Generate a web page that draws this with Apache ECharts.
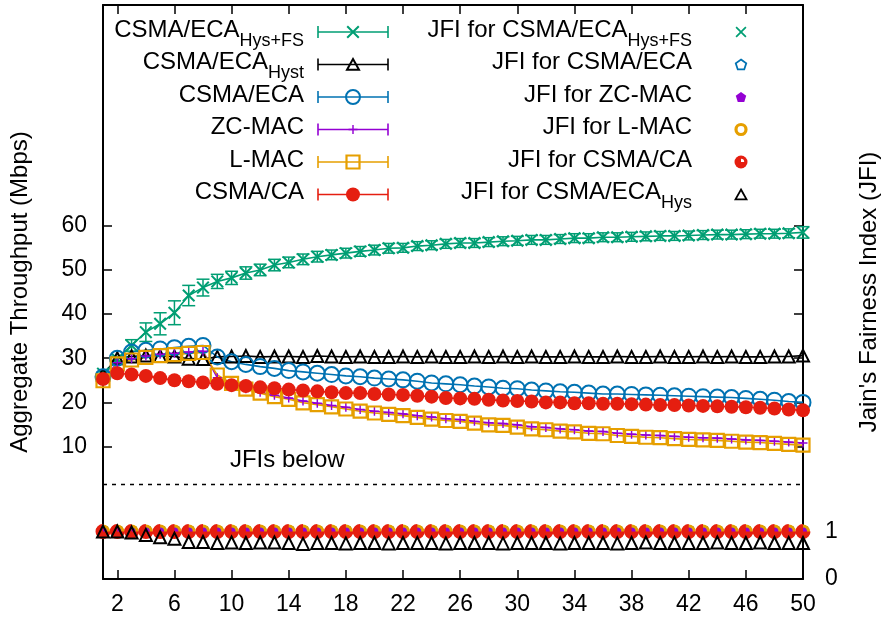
<!DOCTYPE html>
<html>
<head>
<meta charset="utf-8">
<script src="https://cdn.jsdelivr.net/npm/echarts@6/dist/echarts.min.js"></script>
<style>
html, body { margin: 0; padding: 0; background: #fff; }
#chart { width: 890px; height: 618px; }
</style>
</head>
<body>
<div id="chart"></div>
<script>
// number of stations
const stations = [1, 2, 3, 4, 5, 6, 7, 8, 9, 10, 11, 12, 13, 14, 15, 16, 17, 18, 19, 20,
  21, 22, 23, 24, 25, 26, 27, 28, 29, 30, 31, 32, 33, 34, 35, 36, 37, 38, 39, 40,
  41, 42, 43, 44, 45, 46, 47, 48, 49, 50]

// aggregate throughput (Mbps)
const hysFs = [26.5, 29.8, 32.9, 35.9, 37.8, 40.3, 44.2, 46.0, 47.4, 48.2, 49.3, 50.0, 51.1, 51.7, 52.4, 53.0, 53.4, 53.8, 54.2, 54.5,
  54.9, 55.0, 55.4, 55.6, 55.9, 56.1, 56.1, 56.3, 56.5, 56.6, 56.8, 56.8, 57.0, 57.2, 57.2, 57.4, 57.4, 57.5, 57.6, 57.7,
  57.7, 57.8, 57.9, 58.0, 58.0, 58.1, 58.2, 58.2, 58.3, 58.5]
const hysFsErr = [0.4, 0.6, 1.3, 2.1, 2.5, 2.7, 2.3, 1.9, 1.6, 1.5, 1.4, 1.3, 1.3, 1.2, 1.2, 1.2, 1.1, 1.1, 1.1, 1.1,
  1.1, 1.0, 1.0, 1.0, 1.0, 1.0, 1.0, 1.0, 1.0, 1.0, 1.0, 1.0, 1.0, 1.0, 1.0, 1.0, 1.0, 1.0, 1.0, 1.0,
  1.0, 1.0, 1.0, 1.0, 1.0, 1.0, 1.0, 1.0, 1.0, 1.3]
const hyst = [26.3, 30.0, 30.4, 30.6, 30.5, 30.4, 29.9, 29.8, 30.3, 30.4, 30.5, 30.3, 30.4, 30.4, 30.3, 30.5, 30.4, 30.3, 30.4, 30.3,
  30.3, 30.4, 30.3, 30.4, 30.3, 30.3, 30.4, 30.3, 30.4, 30.3, 30.4, 30.3, 30.3, 30.4, 30.3, 30.3, 30.4, 30.3, 30.3, 30.4,
  30.3, 30.3, 30.4, 30.3, 30.4, 30.3, 30.3, 30.4, 30.4, 30.6]
const eca = [25.8, 30.0, 31.4, 31.8, 32.1, 32.4, 32.7, 32.9, 30.3, 29.2, 28.6, 28.1, 27.7, 27.2, 26.9, 26.6, 26.3, 26.0, 25.8, 25.5,
  25.3, 25.1, 24.8, 24.4, 24.2, 24.0, 23.7, 23.5, 23.2, 23.1, 22.8, 22.6, 22.4, 22.3, 22.1, 21.9, 21.9, 21.8, 21.7, 21.6,
  21.5, 21.4, 21.3, 21.2, 21.1, 20.9, 20.7, 20.5, 20.2, 20.0]
const zcmac = [25.2, 29.0, 29.9, 30.5, 30.9, 31.1, 31.4, 31.6, 25.6, 24.2, 23.1, 22.3, 21.6, 21.0, 20.3, 19.8, 19.3, 18.9, 18.4, 18.0,
  17.7, 17.4, 17.0, 16.7, 16.3, 16.1, 15.7, 15.4, 15.2, 14.9, 14.5, 14.3, 14.0, 13.8, 13.5, 13.4, 13.0, 12.8, 12.6, 12.5,
  12.3, 12.1, 12.0, 11.9, 11.7, 11.5, 11.4, 11.2, 11.0, 10.8]
const lmac = [24.9, 28.7, 29.6, 30.2, 30.6, 30.8, 31.1, 31.3, 26.2, 24.3, 23.0, 22.1, 21.3, 20.7, 19.9, 19.5, 19.0, 18.5, 18.0, 17.6,
  17.3, 17.0, 16.6, 16.2, 15.9, 15.7, 15.3, 14.9, 14.8, 14.4, 14.0, 13.8, 13.5, 13.3, 13.0, 12.9, 12.5, 12.3, 12.1, 12.0,
  11.8, 11.6, 11.5, 11.4, 11.2, 11.0, 10.9, 10.7, 10.5, 10.3]
const csmaca = [25.3, 26.6, 26.3, 26.0, 25.5, 25.0, 24.8, 24.5, 24.2, 23.9, 23.7, 23.4, 23.2, 22.9, 22.7, 22.5, 22.3, 22.1, 22.1, 21.9,
  21.8, 21.7, 21.5, 21.3, 21.0, 20.9, 20.8, 20.6, 20.4, 20.3, 20.2, 20.0, 20.0, 19.8, 19.8, 19.7, 19.7, 19.6, 19.5, 19.4,
  19.4, 19.3, 19.2, 19.1, 19.0, 18.9, 18.8, 18.6, 18.4, 18.2]

// Jain's fairness index
const jfiHysFs = [1, 1, 1, 1, 1, 1, 1, 1, 1, 1, 1, 1, 1, 1, 1, 1, 1, 1, 1, 1, 1, 1, 1, 1, 1,
  1, 1, 1, 1, 1, 1, 1, 1, 1, 1, 1, 1, 1, 1, 1, 1, 1, 1, 1, 1, 1, 1, 1, 1, 1]
const jfiEca = [1, 1, 1, 1, 1, 1, 1, 1, 1, 1, 1, 1, 1, 1, 1, 1, 1, 1, 1, 1, 1, 1, 1, 1, 1,
  1, 1, 1, 1, 1, 1, 1, 1, 1, 1, 1, 1, 1, 1, 1, 1, 1, 1, 1, 1, 1, 1, 1, 1, 1]
const jfiZc = [1, 1, 1, 1, 1, 1, 1, 1, 1, 1, 1, 1, 1, 1, 1, 1, 1, 1, 1, 1, 1, 1, 1, 1, 1,
  1, 1, 1, 1, 1, 1, 1, 1, 1, 1, 1, 1, 1, 1, 1, 1, 1, 1, 1, 1, 1, 1, 1, 1, 1]
const jfiLmac = [1, 1, 1, 1, 1, 1, 1, 1, 1, 1, 1, 1, 1, 1, 1, 1, 1, 1, 1, 1, 1, 1, 1, 1, 1,
  1, 1, 1, 1, 1, 1, 1, 1, 1, 1, 1, 1, 1, 1, 1, 1, 1, 1, 1, 1, 1, 1, 1, 1, 1]
const jfiCa = [1, 1, 1, 1, 1, 1, 1, 1, 1, 1, 1, 1, 1, 1, 1, 1, 1, 1, 1, 1, 1, 1, 1, 1, 1,
  1, 1, 1, 1, 1, 1, 1, 1, 1, 1, 1, 1, 1, 1, 1, 1, 1, 1, 1, 1, 1, 1, 1, 1, 1]
const jfiHys = [1.00, 1.00, 0.98, 0.93, 0.88, 0.85, 0.78, 0.78, 0.76, 0.77, 0.76, 0.77, 0.77, 0.76, 0.74, 0.76, 0.76, 0.75, 0.76, 0.76,
  0.75, 0.76, 0.76, 0.76, 0.75, 0.76, 0.76, 0.76, 0.75, 0.76, 0.76, 0.76, 0.75, 0.76, 0.76, 0.76, 0.75, 0.76, 0.77, 0.76,
  0.76, 0.76, 0.76, 0.77, 0.76, 0.76, 0.77, 0.76, 0.76, 0.76]

// ticks
const xTicks = [2, 6, 10, 14, 18, 22, 26, 30, 34, 38, 42, 46, 50]
const yTicks = [10, 20, 30, 40, 50, 60]
const jfiTicks = [0, 1]
const jfiSplit = 2

// legend names: [text, subscript]
const thrNames = [['CSMA/ECA', 'Hys+FS'], ['CSMA/ECA', 'Hyst'], ['CSMA/ECA', ''], ['ZC-MAC', ''], ['L-MAC', ''], ['CSMA/CA', '']]
const jfiNames = [['JFI for CSMA/ECA', 'Hys+FS'], ['JFI for CSMA/ECA', ''], ['JFI for ZC-MAC', ''], ['JFI for L-MAC', ''], ['JFI for CSMA/CA', ''], ['JFI for CSMA/ECA', 'Hys']]

const FONT = "'Liberation Sans', Arial, Helvetica, sans-serif"
const GREEN = '#009e73'
const BLACK = '#000000'
const BLUE = '#0072b2'
const PURPLE = '#9400d3'
const ORANGE = '#e69f00'
const RED = '#e51e10'
const NONE = 'rgba(0,0,0,0)'

// marker outlines in a 10x10 box
const CROSS = [[0, 1.1], [1.1, 0], [5, 3.9], [8.9, 0], [10, 1.1], [6.1, 5], [10, 8.9], [8.9, 10], [5, 6.1], [1.1, 10], [0, 8.9], [3.9, 5]]
const PLUS = [[4.2, 0], [5.8, 0], [5.8, 4.2], [10, 4.2], [10, 5.8], [5.8, 5.8], [5.8, 10], [4.2, 10], [4.2, 5.8], [0, 5.8], [0, 4.2], [4.2, 4.2]]
const PENTA = [[5, 0], [9.76, 3.45], [7.94, 9.05], [2.06, 9.05], [0.24, 3.45]]
const TRI = [[5, 0], [10, 9], [0, 9]]

function toPath (pts) {
  return 'path://M' + pts.map(p => p[0] + ',' + p[1]).join('L') + 'Z'
}
function pairs (vals) {
  return stations.map((x, i) => [x, vals[i]])
}

function thrSeries (name, vals, color, symbol, size, fill, border) {
  return {
    name: name,
    type: 'line',
    xAxisIndex: 0,
    yAxisIndex: 0,
    data: pairs(vals),
    symbol: symbol,
    symbolSize: size,
    showAllSymbol: true,
    clip: false,
    lineStyle: { color: color, width: 1.6 },
    itemStyle: { color: fill, borderColor: color, borderWidth: border },
    emphasis: { disabled: true }
  }
}
function jfiSeries (name, vals, color, symbol, size, fill, border) {
  return {
    name: name,
    type: 'scatter',
    xAxisIndex: 0,
    yAxisIndex: 1,
    data: pairs(vals),
    symbol: symbol,
    symbolSize: size,
    clip: false,
    itemStyle: { color: fill, borderColor: color, borderWidth: border, opacity: 1 },
    emphasis: { disabled: true }
  }
}

const errorBars = {
  type: 'custom',
  xAxisIndex: 0,
  yAxisIndex: 0,
  clip: false,
  data: stations.map((x, i) => [x, hysFs[i] - hysFsErr[i], hysFs[i] + hysFsErr[i]]),
  encode: { x: 0, y: [1, 2] },
  renderItem: function (params, api) {
    const lo = api.coord([api.value(0), api.value(1)])
    const hi = api.coord([api.value(0), api.value(2)])
    const w = 6.5
    const st = { stroke: GREEN, lineWidth: 1.5 }
    return {
      type: 'group',
      children: [
        { type: 'line', shape: { x1: lo[0], y1: lo[1], x2: hi[0], y2: hi[1] }, style: st },
        { type: 'line', shape: { x1: lo[0] - w, y1: lo[1], x2: lo[0] + w, y2: lo[1] }, style: st },
        { type: 'line', shape: { x1: hi[0] - w, y1: hi[1], x2: hi[0] + w, y2: hi[1] }, style: st }
      ]
    }
  }
}

const redNotch = 'path://M5,0A5,5,0,1,0,10,5L5,5Z'

const series = [
  errorBars,
  thrSeries('hysfs', hysFs, GREEN, toPath(CROSS), 13, GREEN, 0),
  thrSeries('hyst', hyst, BLACK, 'triangle', 12, NONE, 2),
  thrSeries('eca', eca, BLUE, 'circle', 15, NONE, 2),
  thrSeries('zc', zcmac, PURPLE, toPath(PLUS), 9, PURPLE, 0),
  thrSeries('lmac', lmac, ORANGE, 'rect', 13, NONE, 2.2),
  thrSeries('ca', csmaca, RED, 'circle', 14, RED, 0),
  jfiSeries('jhysfs', jfiHysFs, GREEN, toPath(CROSS), 11, GREEN, 0),
  jfiSeries('jeca', jfiEca, BLUE, toPath(PENTA), 10, NONE, 1.5),
  jfiSeries('jzc', jfiZc, PURPLE, toPath(PENTA), 10, PURPLE, 0),
  jfiSeries('jlmac', jfiLmac, ORANGE, 'circle', 11, NONE, 3),
  jfiSeries('jca', jfiCa, RED, redNotch, 15, RED, 0),
  jfiSeries('jhys', jfiHys, BLACK, 'triangle', 12, NONE, 2)
]
series[7].markLine = {
  silent: true,
  symbol: 'none',
  label: { show: false },
  lineStyle: { color: '#000', width: 1.3, type: [4, 5] },
  data: [{ yAxis: jfiSplit }]
}

const axisLine = { show: true, onZero: false, lineStyle: { color: '#000', width: 2 } }
const tickStyle = { color: '#000', width: 1.5 }
const labelStyle = { color: '#000', fontSize: 23, fontFamily: FONT }

const option = {
  animation: false,
  backgroundColor: '#fff',
  grid: { left: 102, right: 87, top: 5, bottom: 39 },
  xAxis: [
    {
      type: 'value', min: 1, max: 50, position: 'bottom',
      axisLine: axisLine,
      axisTick: { inside: true, length: 9, customValues: xTicks, lineStyle: tickStyle },
      axisLabel: Object.assign({ customValues: xTicks, margin: 14 }, labelStyle),
      splitLine: { show: false }
    },
    {
      type: 'value', min: 1, max: 50, position: 'top',
      axisLine: axisLine,
      axisTick: { inside: true, length: 9, customValues: xTicks, lineStyle: tickStyle },
      axisLabel: { show: false },
      splitLine: { show: false }
    }
  ],
  yAxis: [
    {
      type: 'value', min: -20, max: 110, position: 'left',
      axisLine: axisLine,
      axisTick: { inside: true, length: 9, customValues: yTicks, lineStyle: tickStyle },
      axisLabel: Object.assign({ customValues: yTicks, margin: 16 }, labelStyle),
      splitLine: { show: false },
      name: 'Aggregate Throughput (Mbps)',
      nameLocation: 'middle',
      nameRotate: 90,
      nameGap: 71,
      nameTextStyle: { color: '#000', fontSize: 24, fontFamily: FONT }
    },
    {
      type: 'value', min: 0, max: 12.1, position: 'right',
      axisLine: axisLine,
      axisTick: { show: false },
      axisLabel: Object.assign({ customValues: jfiTicks, margin: 22 }, labelStyle),
      splitLine: { show: false },
      name: "Jain's Fairness Index (JFI)",
      nameLocation: 'middle',
      nameRotate: 90,
      nameGap: 54,
      nameTextStyle: { color: '#000', fontSize: 24, fontFamily: FONT }
    },
    {
      type: 'value', min: -20, max: 110, position: 'right',
      axisLine: { show: false },
      axisTick: { inside: true, length: 9, customValues: yTicks, lineStyle: tickStyle },
      axisLabel: { show: false },
      splitLine: { show: false }
    }
  ],
  series: series
}

const chart = echarts.init(document.getElementById('chart'))
chart.setOption(option)

// legend, drawn gnuplot-style
const ctx = document.createElement('canvas').getContext('2d')
function textWidth (str, size) {
  ctx.font = size + "px 'Liberation Sans', Arial, sans-serif"
  return ctx.measureText(str).width
}
function label (pair, right, y) {
  const els = []
  let edge = right
  if (pair[1]) {
    els.push({ type: 'text', x: right, y: y + 9, style: { text: pair[1], fontSize: 18, fontFamily: FONT, fill: '#000', align: 'right', verticalAlign: 'middle' } })
    edge = right - textWidth(pair[1], 18)
  }
  els.push({ type: 'text', x: edge, y: y - 2, style: { text: pair[0], fontSize: 24, fontFamily: FONT, fill: '#000', align: 'right', verticalAlign: 'middle' } })
  return els
}
function poly (pts, cx, cy, size, fill, stroke, lw) {
  return {
    type: 'polygon',
    shape: { points: pts.map(p => [cx + (p[0] - 5) * size / 10, cy + (p[1] - 5) * size / 10]) },
    style: { fill: fill, stroke: stroke, lineWidth: lw }
  }
}

const rowsY = [32, 64.5, 97, 129.5, 162, 194.5]
const thrColors = [GREEN, BLACK, BLUE, PURPLE, ORANGE, RED]
const thrMarks = [
  (x, y) => [poly(CROSS, x, y, 13, GREEN, null, 0)],
  (x, y) => [poly(TRI, x, y + 0.5, 12, NONE, BLACK, 2)],
  (x, y) => [{ type: 'circle', shape: { cx: x, cy: y, r: 7 }, style: { fill: NONE, stroke: BLUE, lineWidth: 2 } }],
  (x, y) => [poly(PLUS, x, y, 9, PURPLE, null, 0)],
  (x, y) => [{ type: 'rect', shape: { x: x - 6.5, y: y - 6.5, width: 13, height: 13 }, style: { fill: NONE, stroke: ORANGE, lineWidth: 2.2 } }],
  (x, y) => [{ type: 'circle', shape: { cx: x, cy: y, r: 7 }, style: { fill: RED } }]
]
const jfiMarks = [
  (x, y) => [poly(CROSS, x, y, 11, GREEN, null, 0)],
  (x, y) => [poly(PENTA, x, y + 0.5, 11, NONE, BLUE, 1.8)],
  (x, y) => [poly(PENTA, x, y + 0.5, 11, PURPLE, null, 0)],
  (x, y) => [{ type: 'circle', shape: { cx: x, cy: y, r: 5 }, style: { fill: NONE, stroke: ORANGE, lineWidth: 3.2 } }],
  (x, y) => [
    { type: 'circle', shape: { cx: x, cy: y, r: 6.5 }, style: { fill: RED } },
    { type: 'sector', shape: { cx: x, cy: y, r0: 0, r: 3.2, startAngle: -Math.PI / 2, endAngle: 0, clockwise: true }, style: { fill: '#fff' } }
  ],
  (x, y) => [poly(TRI, x, y + 0.5, 11, NONE, BLACK, 1.8)]
]

const graphics = []
thrNames.forEach((pair, i) => {
  const y = rowsY[i]
  const c = thrColors[i]
  const st = { stroke: c, lineWidth: 1.6 }
  graphics.push(...label(pair, 304, y))
  graphics.push({ type: 'line', shape: { x1: 318, y1: y, x2: 388, y2: y }, style: st })
  graphics.push({ type: 'line', shape: { x1: 318, y1: y - 6, x2: 318, y2: y + 6 }, style: st })
  graphics.push({ type: 'line', shape: { x1: 388, y1: y - 6, x2: 388, y2: y + 6 }, style: st })
  graphics.push(...thrMarks[i](353, y))
})
jfiNames.forEach((pair, i) => {
  const y = rowsY[i]
  graphics.push(...label(pair, 692, y))
  graphics.push(...jfiMarks[i](741, y))
})
const note = chart.convertToPixel({ xAxisIndex: 0, yAxisIndex: 1 }, [13.9, 2.5])
graphics.push({ type: 'text', x: note[0], y: note[1], style: { text: 'JFIs below', fontSize: 24, fontFamily: FONT, fill: '#000', align: 'center', verticalAlign: 'middle' } })

chart.setOption({ graphic: graphics.map((g, i) => Object.assign({ silent: true, z: 100, z2: i }, g)) })
</script>
</body>
</html>
